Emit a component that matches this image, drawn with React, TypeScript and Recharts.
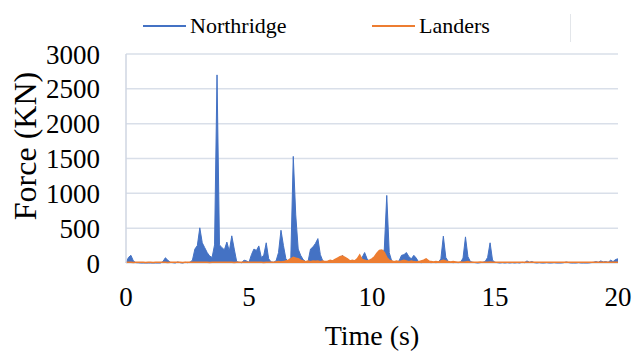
import { ComposedChart, Area, XAxis, YAxis, CartesianGrid } from "recharts";

// sampled every 0.1 s, one row per second
const northridge = [
  0, 80, 110, 30, 5, 3, 0, 0, 0, 0,
  0, 0, 0, 0, 0, 20, 75, 40, 10, 5,
  0, 15, 5, 0, 10, 5, 10, 40, 200, 250,
  505, 290, 220, 150, 100, 80, 260, 2700, 260, 220,
  190, 300, 170, 390, 200, 20, 10, 5, 40, 30,
  10, 120, 200, 180, 245, 80, 110, 290, 60, 15,
  10, 30, 150, 470, 250, 60, 20, 80, 1530, 690,
  200, 110, 50, 20, 20, 200, 230, 280, 350, 120,
  30, 15, 10, 20, 30, 10, 40, 70, 110, 60,
  30, 20, 10, 15, 30, 60, 80, 150, 60, 20,
  10, 20, 40, 60, 90, 200, 970, 150, 30, 15,
  10, 30, 110, 120, 150, 90, 60, 110, 70, 10,
  5, 10, 20, 10, 5, 10, 5, 10, 60, 385,
  80, 20, 10, 5, 10, 5, 10, 70, 375, 90,
  20, 10, 5, 0, 5, 10, 20, 80, 290, 40,
  10, 5, 0, 5, 0, 5, 0, 5, 0, 5,
  0, 10, 5, 30, 10, 20, 5, 0, 5, 0,
  0, 5, 0, 0, 5, 0, 0, 0, 5, 15,
  5, 0, 0, 0, 5, 0, 0, 0, 0, 5,
  10, 20, 10, 30, 15, 20, 10, 40, 20, 50,
  60,
];

const landers = [
  10, 12, 10, 8, 10, 12, 10, 10, 8, 10,
  10, 8, 10, 10, 12, 10, 10, 8, 10, 10,
  12, 10, 10, 8, 10, 12, 10, 10, 12, 10,
  10, 12, 10, 10, 8, 10, 12, 10, 10, 12,
  10, 10, 12, 10, 8, 10, 10, 12, 10, 10,
  12, 10, 10, 12, 10, 10, 8, 10, 12, 10,
  10, 15, 20, 15, 20, 30, 40, 60, 80, 70,
  60, 40, 30, 20, 30, 20, 30, 25, 30, 20,
  30, 20, 25, 40, 30, 50, 70, 90, 100, 80,
  60, 30, 40, 30, 60, 115, 50, 40, 30, 40,
  60, 90, 140, 180, 185, 150, 80, 40, 30, 20,
  30, 20, 30, 40, 30, 20, 30, 20, 15, 20,
  30, 40, 60, 30, 20, 15, 20, 15, 30, 40,
  30, 20, 15, 20, 15, 10, 15, 10, 15, 20,
  12, 10, 12, 10, 15, 12, 10, 12, 15, 12,
  10, 12, 10, 12, 10, 10, 12, 10, 12, 10,
  12, 10, 10, 12, 10, 12, 10, 10, 12, 10,
  10, 12, 10, 10, 12, 10, 10, 12, 10, 10,
  12, 10, 10, 12, 10, 10, 12, 10, 10, 12,
  10, 12, 10, 10, 12, 10, 12, 10, 12, 10,
  12,
];

const xTicks = [0, 5, 10, 15, 20];
const yTicks = [0, 500, 1000, 1500, 2000, 2500, 3000];

const data = northridge.map((v, i) => ({ t: i / 10, northridge: v, landers: landers[i] }));

const serif = "Liberation Serif, DejaVu Serif, serif";
const blue = "#4472C4";
const orange = "#ED7D31";

const LegendItem = ({ color, label, left }: { color: string; label: string; left: number }) => (
  <div style={{ position: "absolute", left, top: 12, display: "flex", alignItems: "center" }}>
    <span style={{ display: "inline-block", width: 43, height: 2, background: color, marginRight: 4 }} />
    <span style={{ fontFamily: serif, fontSize: 22, color: "#000", lineHeight: "28px" }}>{label}</span>
  </div>
);

export default function App() {
  return (
    <div style={{ position: "absolute", left: 0, top: 0, width: 632, height: 354, background: "#fff" }}>
      <ComposedChart width={632} height={354} data={data} margin={{ top: 54, right: 14, bottom: 0, left: 0 }}
        style={{ fontFamily: serif }}>
        <CartesianGrid vertical={false} stroke="#d9dfe9" strokeWidth={1.5} />
        <XAxis
          dataKey="t"
          type="number"
          domain={[0, 20]}
          ticks={xTicks}
          axisLine={false}
          tickLine={false}
          height={91}
          tickMargin={18}
          interval={0}
          tick={{ fill: "#000", fontSize: 27, fontFamily: serif }}
          label={{ value: "Time (s)", position: "insideBottom", offset: 9, fill: "#000", fontSize: 28, fontFamily: serif }}
        />
        <YAxis
          domain={[0, 3000]}
          ticks={yTicks}
          width={126}
          interval={0}
          axisLine={{ stroke: "#cfd6e2", strokeWidth: 1.5 }}
          tickLine={false}
          tickMargin={20}
          tick={{ fill: "#000", fontSize: 27, fontFamily: serif }}
          label={{
            content: () => (
              <text x={25} y={146} transform="rotate(-90 25 146)" textAnchor="middle" dominantBaseline="central"
                fill="#000" fontSize={32} fontFamily={serif}>
                Force (KN)
              </text>
            ),
          }}
        />
        <Area type="linear" dataKey="northridge" stroke={blue} fill={blue} fillOpacity={1} strokeWidth={1} dot={false} isAnimationActive={false} />
        <Area type="linear" dataKey="landers" stroke={orange} fill={orange} fillOpacity={1} strokeWidth={1.5} dot={false} isAnimationActive={false} />
      </ComposedChart>
      <LegendItem color={blue} label="Northridge" left={143} />
      <LegendItem color={orange} label="Landers" left={372} />
      <div style={{ position: "absolute", left: 570, top: 14, width: 1, height: 28, background: "#e3e6ea" }} />
    </div>
  );
}
